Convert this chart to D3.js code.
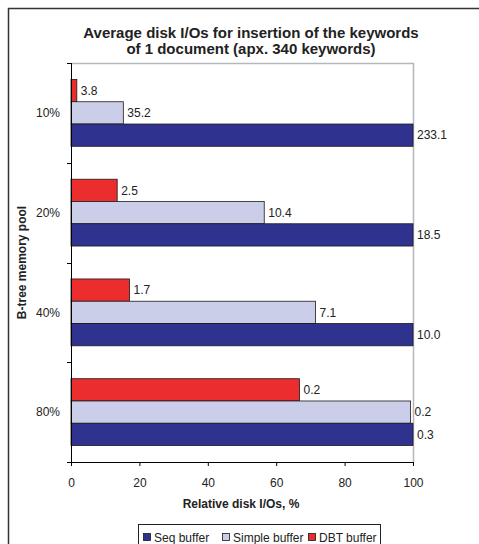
<!DOCTYPE html>
<html>
<head>
<meta charset="utf-8">
<script src="https://cdn.jsdelivr.net/npm/d3@7"></script>
<style>
  body { margin: 0; background: #fff; }
  svg { display: block; font-family: "Liberation Sans", Arial, sans-serif; }
</style>
</head>
<body>
<div class="graph"></div>
<script>
// categories (top to bottom) and series
let pools = ["10%", "20%", "40%", "80%"];
let seriesNames = ["DBT buffer", "Simple buffer", "Seq buffer"];   // order inside a group, top to bottom
let legendNames = ["Seq buffer", "Simple buffer", "DBT buffer"];
let seriesColors = {"Seq buffer": "#2f338f", "Simple buffer": "#cbcee8", "DBT buffer": "#ec2d2e"};

// relative disk I/Os, % (bar lengths)
let seqRel    = [100, 100, 100, 100];
let simpleRel = [15.3, 56.5, 71.5, 99.3];
let dbtRel    = [1.7, 13.5, 17.1, 66.8];

// absolute average disk I/Os (bar labels)
let seqAbs    = ["233.1", "18.5", "10.0", "0.3"];
let simpleAbs = ["35.2", "10.4", "7.1", "0.2"];
let dbtAbs    = ["3.8", "2.5", "1.7", "0.2"];

let xTicks = [0, 20, 40, 60, 80, 100];

let W = 479, H = 544;
let FS = 12;
let svg = d3.select("div.graph").append("svg")
    .attr("width", W).attr("height", H);

// outer chart frame
svg.append("rect")
  .attr("x", 8.5).attr("y", 8.5)
  .attr("width", W + 10).attr("height", H + 10)
  .attr("fill", "none").attr("stroke", "#333").attr("stroke-width", 1.5);

let plot = {left: 71, right: 413, top: 63, bottom: 462};

let x = d3.scaleLinear().domain([0, 100]).range([plot.left, plot.right]);
let y = d3.scaleBand().domain(pools).range([plot.top, plot.bottom])
    .paddingInner(0.33).paddingOuter(0.165);
let ySub = d3.scaleBand().domain(seriesNames).range([0, y.bandwidth()]);

// plot area border (grey top/right)
svg.append("path")
  .attr("d", `M${plot.left},${plot.top + 0.5}H${plot.right + 0.5}V${plot.bottom}`)
  .attr("fill", "none").attr("stroke", "#b4b8bc").attr("stroke-width", 1.5);

let rows = pools.map((p, i) => ({
  pool: p,
  bars: [
    {name: "DBT buffer", rel: dbtRel[i], label: dbtAbs[i]},
    {name: "Simple buffer", rel: simpleRel[i], label: simpleAbs[i]},
    {name: "Seq buffer", rel: seqRel[i], label: seqAbs[i]}
  ]
}));

let groups = svg.selectAll("g.grp").data(rows).enter().append("g")
  .attr("class", "grp")
  .attr("transform", d => `translate(0,${y(d.pool)})`);

groups.selectAll("rect").data(d => d.bars).enter().append("rect")
  .attr("x", x(0))
  .attr("y", d => ySub(d.name))
  .attr("width", d => x(d.rel) - x(0))
  .attr("height", ySub.bandwidth())
  .attr("fill", d => seriesColors[d.name])
  .attr("stroke", "#1a1a1a").attr("stroke-width", 0.8);

groups.selectAll("text").data(d => d.bars).enter().append("text")
  .attr("x", d => x(d.rel) + 4)
  .attr("y", d => ySub(d.name) + ySub.bandwidth() / 2)
  .attr("dy", "0.35em")
  .attr("font-size", FS).attr("fill", "#222")
  .text(d => d.label);

// x axis
let xAxis = svg.append("g")
  .attr("transform", `translate(0,${plot.bottom})`)
  .call(d3.axisBottom(x).tickValues(xTicks).tickSize(4).tickSizeOuter(0).tickPadding(12));
xAxis.select(".domain").attr("stroke", "#000").attr("d", `M${plot.left - 4},0.5H${plot.right}`);
xAxis.selectAll(".tick line").attr("stroke", "#000");
xAxis.selectAll("text").attr("font-size", FS).attr("fill", "#222")
  .attr("font-family", "Liberation Sans, Arial, sans-serif");

// y axis: ticks at the category boundaries
let yAxis = svg.append("g").attr("transform", `translate(${plot.left},0)`);
yAxis.append("line")
  .attr("x1", 0.5).attr("x2", 0.5).attr("y1", plot.top).attr("y2", plot.bottom)
  .attr("stroke", "#000");
let bounds = pools.map(p => y(p) - y.step() * y.paddingInner() / 2).concat([plot.bottom]);
yAxis.selectAll("line.tk").data(bounds).enter().append("line")
  .attr("class", "tk")
  .attr("x1", -4).attr("x2", 0).attr("y1", d => Math.round(d) + 0.5).attr("y2", d => Math.round(d) + 0.5)
  .attr("stroke", "#000");
yAxis.selectAll("text").data(pools).enter().append("text")
  .attr("x", -11).attr("y", d => y(d) + y.bandwidth() / 2)
  .attr("dy", "0.35em").attr("text-anchor", "end")
  .attr("font-size", FS).attr("fill", "#222")
  .text(d => d);

// titles
let title = svg.append("text")
  .attr("text-anchor", "middle").attr("font-weight", "bold")
  .attr("font-size", 15).attr("fill", "#222");
title.append("tspan").attr("x", 251).attr("y", 38).text("Average disk I/Os for insertion of the keywords");
title.append("tspan").attr("x", 251).attr("y", 54).text("of 1 document (apx. 340 keywords)");

svg.append("text")
  .attr("x", 241).attr("y", 507.5)
  .attr("text-anchor", "middle").attr("font-weight", "bold")
  .attr("font-size", FS).attr("fill", "#222")
  .text("Relative disk I/Os, %");

svg.append("text")
  .attr("transform", `translate(26,${(plot.top + plot.bottom) / 2}) rotate(-90)`)
  .attr("text-anchor", "middle").attr("font-weight", "bold")
  .attr("font-size", FS).attr("fill", "#222")
  .text("B-tree memory pool");

// legend
let legend = svg.append("g").attr("transform", "translate(138,524)");
legend.append("rect")
  .attr("x", 0.5).attr("y", 0.5).attr("width", 242).attr("height", 24)
  .attr("fill", "#fff").attr("stroke", "#222").attr("stroke-width", 1);
let legX = [5, 84, 170];
let items = legend.selectAll("g.item").data(legendNames).enter().append("g")
  .attr("class", "item")
  .attr("transform", (d, i) => `translate(${legX[i]},0)`);
items.append("rect")
  .attr("x", 0.5).attr("y", 9.5).attr("width", 7).attr("height", 7)
  .attr("fill", d => seriesColors[d]).attr("stroke", "#1a1a1a").attr("stroke-width", 0.8);
items.append("text")
  .attr("x", 11).attr("y", 13.5).attr("dy", "0.35em")
  .attr("font-size", FS).attr("fill", "#222")
  .text(d => d);
</script>
</body>
</html>
